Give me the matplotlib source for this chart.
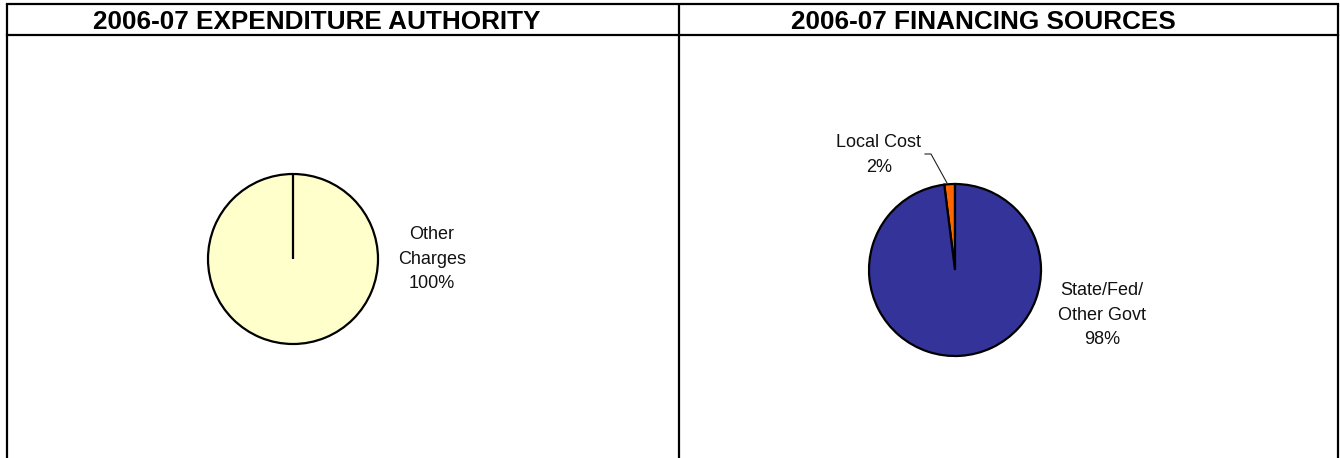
import numpy as np
import matplotlib.pyplot as plt

plt.rcParams['font.family'] = ['Liberation Sans', 'DejaVu Sans']

# Data
titles = ["2006-07 EXPENDITURE AUTHORITY", "2006-07 FINANCING SOURCES"]
exp_labels = ["Other\nCharges"]
exp_values = [100]
exp_colors = ["#FFFFCC"]
fin_labels = ["Local Cost", "State/Fed/\nOther Govt"]
fin_values = [2, 98]
fin_colors = ["#FF6600", "#333399"]

W, H = 1340, 458
fig = plt.figure(figsize=(W / 100, H / 100), dpi=100)
ax = fig.add_axes([0, 0, 1, 1])


def Y(y):
    # pixel row (from top) -> data y
    return H - y


def pct_text(label, v, values):
    return f"{label}\n{v / sum(values) * 100:.0f}%"


wp = dict(edgecolor="black", linewidth=1.6)
lbl = dict(ha="center", va="center", fontsize=13, color="#111111",
           linespacing=1.55)

# Left pie: expenditure authority
c1, r1 = (293, Y(259)), 85
ax.pie(exp_values, colors=exp_colors, startangle=90, radius=r1, center=c1,
       wedgeprops=wp)
ang = np.deg2rad(90)
ax.plot([c1[0], c1[0] + r1 * np.cos(ang)], [c1[1], c1[1] + r1 * np.sin(ang)],
        color="black", lw=1.6, solid_capstyle="butt")
ax.text(432, Y(259), pct_text(exp_labels[0], exp_values[0], exp_values), **lbl)

# Right pie: financing sources
c2, r2 = (955, Y(270)), 86
ax.pie(fin_values, colors=fin_colors, startangle=90, radius=r2, center=c2,
       counterclock=True, wedgeprops=wp)
ax.text(879, Y(155), pct_text(fin_labels[0], fin_values[0], fin_values), **lbl)
ax.text(1102, Y(315), pct_text(fin_labels[1], fin_values[1], fin_values), **lbl)
# leader line for the small slice
ax.plot([925, 931, 947], [Y(154), Y(154), Y(183)], color="#222222", lw=0.8)

# Panel frames and headers
lw = 1.6
ax.plot([7, 1338], [Y(4), Y(4)], color="black", lw=lw)
ax.plot([7, 1338], [Y(35), Y(35)], color="black", lw=lw)
for x in [7, 679, 1338]:
    ax.plot([x, x], [Y(4), Y(H)], color="black", lw=lw, solid_capstyle="butt")

ax.text(316.5, Y(29), titles[0], ha="center", va="baseline",
        fontsize=18.8, fontweight="bold")
ax.text(983.5, Y(29), titles[1], ha="center", va="baseline",
        fontsize=18.8, fontweight="bold")

ax.set_xlim(0, W)
ax.set_ylim(0, H)
ax.set_aspect("equal")
ax.axis("off")

fig.savefig("out.png", dpi=100)
